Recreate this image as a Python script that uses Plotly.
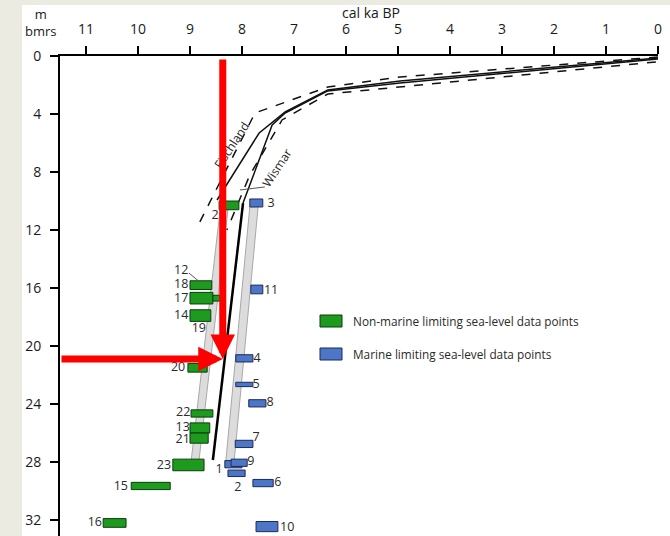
import plotly.graph_objects as go

# ---------------- data ----------------
x_ticks = [0, 1, 2, 3, 4, 5, 6, 7, 8, 9, 10, 11]
y_ticks = [0, 4, 8, 12, 16, 20, 24, 28, 32]

# Non-marine limiting data points (green boxes): age range (ka) and depth range (m)
green_ids = ["2", "18", "17", "19", "14", "20", "22", "13", "21", "23", "15", "16"]
green_age_old = [8.44, 9.00, 9.00, 8.56, 9.00, 9.04, 8.98, 9.00, 9.00, 9.33, 10.13, 10.67]
green_age_young = [8.06, 8.58, 8.56, 8.42, 8.60, 8.67, 8.56, 8.62, 8.65, 8.73, 9.38, 10.23]
green_depth_top = [10.0, 15.5, 16.3, 16.5, 17.5, 21.2, 24.4, 25.3, 26.0, 27.8, 29.4, 31.9]
green_depth_bot = [10.6, 16.1, 17.1, 16.9, 18.3, 21.8, 24.9, 26.0, 26.7, 28.6, 29.9, 32.5]

# labels of green points
green_lab_text = ["2", "12", "18", "17", "14", "19", "20", "22", "13", "21", "23", "15", "16"]
green_lab_age = [8.52, 9.17, 9.17, 9.17, 9.17, 8.83, 9.23, 9.13, 9.14, 9.14, 9.50, 10.33, 10.83]
green_lab_depth = [11.0, 14.83, 15.79, 16.76, 17.93, 18.83, 21.5, 24.6, 25.66, 26.45, 28.28, 29.72, 32.2]

# Marine limiting data points (blue boxes)
blue_ids = ["3", "11", "4", "5", "8", "7", "1", "9", "2", "6", "10"]
blue_age_old = [7.85, 7.83, 8.12, 8.12, 7.87, 8.13, 8.33, 8.21, 8.27, 7.79, 7.73]
blue_age_young = [7.60, 7.60, 7.79, 7.79, 7.54, 7.79, 8.00, 7.90, 7.94, 7.40, 7.31]
blue_depth_top = [9.86, 15.8, 20.6, 22.5, 23.7, 26.5, 27.9, 27.8, 28.55, 29.2, 32.1]
blue_depth_bot = [10.41, 16.4, 21.1, 22.8, 24.2, 27.0, 28.4, 28.3, 29.0, 29.7, 32.8]

blue_lab_text = ["3", "11", "4", "5", "8", "7", "1", "9", "2", "6", "10"]
blue_lab_age = [7.44, 7.44, 7.71, 7.73, 7.46, 7.73, 8.44, 7.83, 8.08, 7.31, 7.13]
blue_lab_depth = [10.2, 16.2, 20.9, 22.7, 23.93, 26.3, 28.55, 28.0, 29.8, 29.45, 32.55]

# Sea-level curves (age ka, depth m)
fisch_upper_age = [0.0, 4.96, 6.35, 7.75, 8.87]
fisch_upper_depth = [0.07, 1.45, 2.14, 3.93, 11.86]
fisch_age = [0.0, 4.96, 6.35, 7.17, 7.67, 8.33, 8.48]
fisch_depth = [0.14, 1.72, 2.34, 3.86, 5.31, 9.03, 9.93]
wismar_age = [0.0, 4.96, 6.35, 7.17, 7.42, 7.98]
wismar_depth = [0.2, 1.86, 2.41, 3.93, 4.76, 10.14]
wismar_lower_age = [0.04, 4.96, 6.35, 7.23, 7.85, 8.29]
wismar_lower_depth = [0.41, 2.14, 2.62, 4.41, 8.21, 12.0]

# Interpreted band limits and central line
nm_band_age = [8.42, 8.27, 8.83, 8.98]
nm_band_depth = [10.6, 10.6, 28.0, 28.0]
m_band_age = [7.85, 7.69, 8.15, 8.31]
m_band_depth = [10.4, 10.4, 27.9, 27.9]
mid_line_age = [7.98, 8.56]
mid_line_depth = [10.14, 27.86]

# Red arrows: reading of the curve
arrow_tip_age = 8.37
arrow_tip_depth = 20.9
arrow_v_start_depth = 0.14
arrow_h_start_age = 11.5

GREEN = "#1e9a1e"
GREEN_EDGE = "#0b3d0b"
BLUE = "#4d77c6"
BLUE_EDGE = "#1b2b5c"
TXT = "#2a2a2a"
FONT = "Open Sans"

fig = go.Figure()

# gray bands
for ax_, dp_ in [(nm_band_age, nm_band_depth), (m_band_age, m_band_depth)]:
    fig.add_trace(go.Scatter(x=ax_ + [ax_[0]], y=dp_ + [dp_[0]], mode="lines",
                             fill="toself", fillcolor="#dcdcdc",
                             line=dict(color="#a8a8a8", width=1), hoverinfo="skip"))

fig.add_trace(go.Scatter(x=mid_line_age, y=mid_line_depth, mode="lines",
                         line=dict(color="black", width=2.5), hoverinfo="skip"))

# curves
fig.add_trace(go.Scatter(x=fisch_upper_age, y=fisch_upper_depth, mode="lines",
                         line=dict(color="#111", width=1.5, dash="dash")))
fig.add_trace(go.Scatter(x=fisch_age, y=fisch_depth, mode="lines",
                         line=dict(color="#111", width=1.5)))
fig.add_trace(go.Scatter(x=wismar_age, y=wismar_depth, mode="lines",
                         line=dict(color="#111", width=1.5)))
fig.add_trace(go.Scatter(x=wismar_lower_age, y=wismar_lower_depth, mode="lines",
                         line=dict(color="#111", width=1.5, dash="dash")))

# boxes
def add_box(a0, a1, d0, d1, fill, edge):
    fig.add_trace(go.Scatter(x=[a0, a1, a1, a0, a0], y=[d0, d0, d1, d1, d0],
                             mode="lines", fill="toself", fillcolor=fill,
                             line=dict(color=edge, width=1), hoverinfo="skip"))

for i in range(len(green_ids)):
    add_box(green_age_old[i], green_age_young[i], green_depth_top[i], green_depth_bot[i], GREEN, GREEN_EDGE)
for i in range(len(blue_ids)):
    add_box(blue_age_old[i], blue_age_young[i], blue_depth_top[i], blue_depth_bot[i], BLUE, BLUE_EDGE)

# point labels
fig.add_trace(go.Scatter(x=green_lab_age + blue_lab_age, y=green_lab_depth + blue_lab_depth,
                         mode="text", text=green_lab_text + blue_lab_text, cliponaxis=False,
                         textfont=dict(family=FONT, size=12.5, color=TXT), textposition="middle center"))

# leader lines
fig.add_trace(go.Scatter(x=[9.02, 8.81], y=[14.97, 15.59], mode="lines",
                         line=dict(color="#555", width=1)))
fig.add_trace(go.Scatter(x=[7.56, 8.04], y=[9.03, 9.24], mode="lines",
                         line=dict(color="#555", width=1)))

annotations = [
    dict(x=8.2, y=6.2, xref="x", yref="y", text="Fischland", showarrow=False,
         textangle=-57, font=dict(family=FONT, size=12, color=TXT)),
    dict(x=7.33, y=7.66, xref="x", yref="y", text="Wismar", showarrow=False,
         textangle=-57, font=dict(family=FONT, size=12, color=TXT)),
    dict(x=(371 - 60) / 598, y=(536 - 12) / 480, xref="paper", yref="paper", text="cal ka BP",
         showarrow=False, font=dict(family=FONT, size=14, color="#1a1a1a"), xanchor="center", yanchor="middle"),
    dict(x=(41 - 60) / 598, y=(536 - 23) / 480, xref="paper", yref="paper", text="m<br>bmrs",
         showarrow=False, font=dict(family=FONT, size=13, color="#1a1a1a"), xanchor="center", yanchor="middle"),
    # legend texts
    dict(x=(351 - 60) / 598, y=(536 - 321) / 480, xref="paper", yref="paper",
         text="Non-marine limiting sea-level data points", showarrow=False, xanchor="left",
         font=dict(family=FONT, size=11.8, color=TXT)),
    dict(x=(351 - 60) / 598, y=(536 - 354) / 480, xref="paper", yref="paper",
         text="Marine limiting sea-level data points", showarrow=False, xanchor="left",
         font=dict(family=FONT, size=11.8, color=TXT)),
    # red arrows
    dict(x=arrow_tip_age, y=arrow_tip_depth, ax=arrow_tip_age, ay=arrow_v_start_depth,
         xref="x", yref="y", axref="x", ayref="y", text="", showarrow=True,
         arrowhead=2, arrowsize=0.7, arrowwidth=7, arrowcolor="#ff0000", standoff=0),
    dict(x=arrow_tip_age, y=arrow_tip_depth, ax=arrow_h_start_age, ay=arrow_tip_depth,
         xref="x", yref="y", axref="x", ayref="y", text="", showarrow=True,
         arrowhead=2, arrowsize=0.7, arrowwidth=7, arrowcolor="#ff0000", standoff=0),
]

shapes = [
    dict(type="rect", xref="paper", yref="paper", x0=(22 - 60) / 598, x1=(672 - 60) / 598,
         y0=-0.02, y1=(536 - 5) / 480, fillcolor="white", line=dict(width=0), layer="below"),
    dict(type="rect", xref="paper", yref="paper", x0=(320 - 60) / 598, x1=(342 - 60) / 598,
         y0=(536 - 327) / 480, y1=(536 - 315) / 480, fillcolor=GREEN, line=dict(color=GREEN_EDGE, width=1)),
    dict(type="rect", xref="paper", yref="paper", x0=(320 - 60) / 598, x1=(342 - 60) / 598,
         y0=(536 - 360) / 480, y1=(536 - 348) / 480, fillcolor=BLUE, line=dict(color=BLUE_EDGE, width=1)),
]

fig.update_layout(
    width=670, height=536,
    margin=dict(l=60, r=12, t=56, b=0, autoexpand=False),
    paper_bgcolor="#ecebe2", plot_bgcolor="white",
    showlegend=False,
    annotations=annotations, shapes=shapes,
    xaxis=dict(range=[11.5, 0], side="top", tickvals=x_ticks, ticktext=[str(v) for v in x_ticks],
               showline=True, linecolor="black", linewidth=2, ticks="outside", ticklen=8,
               tickwidth=1.5, tickcolor="black", showgrid=False, zeroline=False, automargin=False,
               tickfont=dict(family=FONT, size=14, color="#1a1a1a"), ticklabelstandoff=6),
    yaxis=dict(range=[33.1, 0], tickvals=y_ticks, ticktext=[str(v) for v in y_ticks],
               showline=True, linecolor="black", linewidth=2, ticks="outside", ticklen=8,
               tickwidth=1.5, tickcolor="black", showgrid=False, zeroline=False, automargin=False,
               tickfont=dict(family=FONT, size=14, color="#1a1a1a"), ticklabelstandoff=6),
)

fig.write_html("out.html", config={"displayModeBar": False},
               post_script="document.body.style.margin='0';document.body.style.overflow='hidden';")
